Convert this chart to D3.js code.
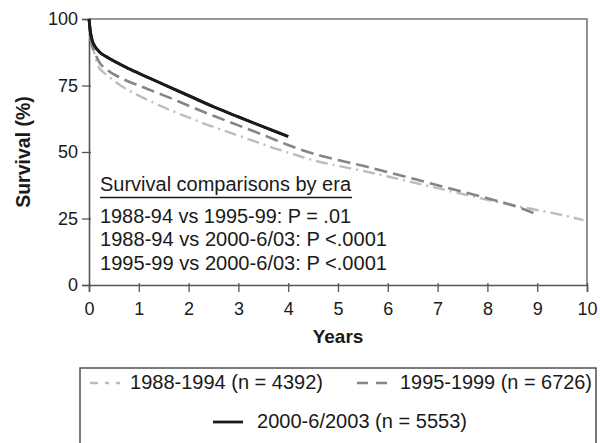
<!DOCTYPE html>
<html>
<head>
<meta charset="utf-8">
<script src="https://cdn.jsdelivr.net/npm/d3@7/dist/d3.min.js"></script>
<style>
  html, body { margin: 0; padding: 0; background: #fff; }
  svg text { font-family: "Liberation Sans", Arial, Helvetica, sans-serif; fill: #1a1a1a; }
</style>
</head>
<body>
<svg id="chart" width="600" height="443"></svg>
<script>
// ---- data ----
const seriesNames = ["1988-1994 (n = 4392)", "1995-1999 (n = 6726)", "2000-6/2003 (n = 5553)"];

const years8894 = [0, 0.04, 0.09, 0.18, 0.3, 0.45, 0.65, 0.85, 1, 1.45, 2, 2.5, 2.87, 3.3, 3.6, 4, 4.5, 5, 5.5, 6, 6.5, 7, 7.5, 8, 8.5, 9, 9.5, 9.93];
const surv8894  = [100, 92, 88.5, 82.5, 79.8, 77.5, 74.8, 72.6, 71.2, 67.2, 63, 59.4, 57, 54.2, 52.2, 49.8, 46.9, 44.8, 42.9, 40.8, 38.6, 36.4, 34.2, 32, 30, 28.2, 26.3, 24.4];

const years9599 = [0, 0.04, 0.1, 0.2, 0.38, 0.6, 0.78, 1, 1.32, 1.5, 2, 2.5, 3, 3.5, 4, 4.5, 5, 5.5, 6, 6.5, 7, 7.5, 8, 8.6, 9];
const surv9599  = [100, 91.5, 88, 84, 80.6, 78.2, 76.6, 75, 72.6, 71.3, 67.4, 63.6, 60, 56.4, 52.6, 49.4, 47, 44.8, 42.4, 40, 37.5, 35.1, 32.6, 29.4, 26.5];

const years0003 = [0, 0.03, 0.06, 0.11, 0.2, 0.35, 0.5, 0.75, 1, 1.5, 2, 2.5, 3, 3.5, 4];
const surv0003  = [100, 95, 92.3, 90, 87.8, 85.8, 84.2, 81.8, 79.6, 75.4, 71.2, 67, 63.2, 59.5, 55.8];

const xTicks = [0, 1, 2, 3, 4, 5, 6, 7, 8, 9, 10];
const yTicks = [0, 25, 50, 75, 100];

const annotTitle = "Survival comparisons by era";
const annotLines = [
  "1988-94 vs 1995-99: P = .01",
  "1988-94 vs 2000-6/03: P <.0001",
  "1995-99 vs 2000-6/03: P <.0001"
];

// ---- styles ----
const colors = ["#bdbdbd", "#858585", "#1a1a1a"];
const dashes = ["12,5,2,5", "13,6", null];
const widths = [2.4, 2.6, 2.8];
const fsTick = 18;
const fsText = 19.5;

const series = [
  years8894.map((y, i) => [y, surv8894[i]]),
  years9599.map((y, i) => [y, surv9599[i]]),
  years0003.map((y, i) => [y, surv0003[i]])
];

const svg = d3.select("#chart");
const x = d3.scaleLinear().domain([0, 10]).range([89, 587]);
const y = d3.scaleLinear().domain([0, 100]).range([285, 19]);
const axisColor = "#555";

// frame (top and right)
svg.append("path")
  .attr("d", `M${x(0)},${y(100)}H${x(10)}V${y(0)}`)
  .attr("fill", "none").attr("stroke", "#777").attr("stroke-width", 1.6);

// x axis
const gx = svg.append("g").attr("transform", `translate(0,${y(0)})`)
  .call(d3.axisBottom(x).tickValues(xTicks).tickSize(7).tickPadding(10).tickFormat(d3.format("d")));
gx.select(".domain").attr("stroke", axisColor).attr("stroke-width", 1.6);
gx.selectAll(".tick line").attr("stroke", axisColor).attr("stroke-width", 1.3).attr("y1", -2);
gx.selectAll(".tick text").attr("font-size", fsTick).attr("fill", "#1a1a1a")
  .attr("font-family", "'Liberation Sans', Arial, sans-serif");

// y axis
const gy = svg.append("g").attr("transform", `translate(${x(0)},0)`)
  .call(d3.axisLeft(y).tickValues(yTicks).tickSize(7).tickPadding(4).tickFormat(d3.format("d")));
gy.select(".domain").attr("stroke", axisColor).attr("stroke-width", 1.6);
gy.selectAll(".tick line").attr("stroke", axisColor).attr("stroke-width", 1.3).attr("x1", 2);
gy.selectAll(".tick text").attr("font-size", fsTick).attr("fill", "#1a1a1a")
  .attr("font-family", "'Liberation Sans', Arial, sans-serif");

// axis titles
svg.append("text").attr("x", 338).attr("y", 343).attr("text-anchor", "middle")
  .attr("font-size", 19).attr("font-weight", "bold").text("Years");
svg.append("text").attr("transform", `translate(30,${y(50)}) rotate(-90)`).attr("text-anchor", "middle")
  .attr("font-size", 19.5).attr("font-weight", "bold").text("Survival (%)");

// curves
const line = d3.line().x(d => x(d[0])).y(d => y(d[1])).curve(d3.curveMonotoneX);
series.forEach((s, i) => {
  svg.append("path").datum(s).attr("d", line)
    .attr("fill", "none").attr("stroke", colors[i]).attr("stroke-width", widths[i])
    .attr("stroke-dasharray", dashes[i]).attr("stroke-linejoin", "round");
});
// redraw black on top
svg.append("path").datum(series[2]).attr("d", line)
  .attr("fill", "none").attr("stroke", colors[2]).attr("stroke-width", widths[2]);

// annotation
svg.append("text").attr("x", 100).attr("y", 190.5).attr("font-size", fsText)
  .attr("textLength", 251).attr("lengthAdjust", "spacingAndGlyphs").text(annotTitle);
svg.append("line").attr("x1", 100).attr("x2", 352).attr("y1", 197.5).attr("y2", 197.5)
  .attr("stroke", "#1a1a1a").attr("stroke-width", 1.3);
const annotLens = [251, 287, 287];
annotLines.forEach((t, i) => {
  svg.append("text").attr("x", 100).attr("y", 222.5 + i * 23.5).attr("font-size", fsText)
    .attr("textLength", annotLens[i]).attr("lengthAdjust", "spacingAndGlyphs").text(t);
});

// legend
svg.append("rect").attr("x", 80).attr("y", 368).attr("width", 516).attr("height", 90)
  .attr("fill", "none").attr("stroke", "#444").attr("stroke-width", 1.4);
const legendItems = [
  { sx: 90, tx: 130, ty: 389, len: 193 },
  { sx: 357, tx: 400, ty: 389, len: 192 },
  { sx: 213, tx: 257, ty: 428, len: 210 }
];
legendItems.forEach((l, i) => {
  svg.append("line").attr("x1", l.sx).attr("x2", l.sx + 30).attr("y1", l.ty - 6).attr("y2", l.ty - 6)
    .attr("stroke", colors[i]).attr("stroke-width", widths[i])
    .attr("stroke-dasharray", i === 2 ? null : (i === 0 ? "8,7,4,7" : "11,8"));
  svg.append("text").attr("x", l.tx).attr("y", l.ty).attr("font-size", fsText)
    .attr("textLength", l.len).attr("lengthAdjust", "spacingAndGlyphs").text(seriesNames[i]);
});
</script>
</body>
</html>
